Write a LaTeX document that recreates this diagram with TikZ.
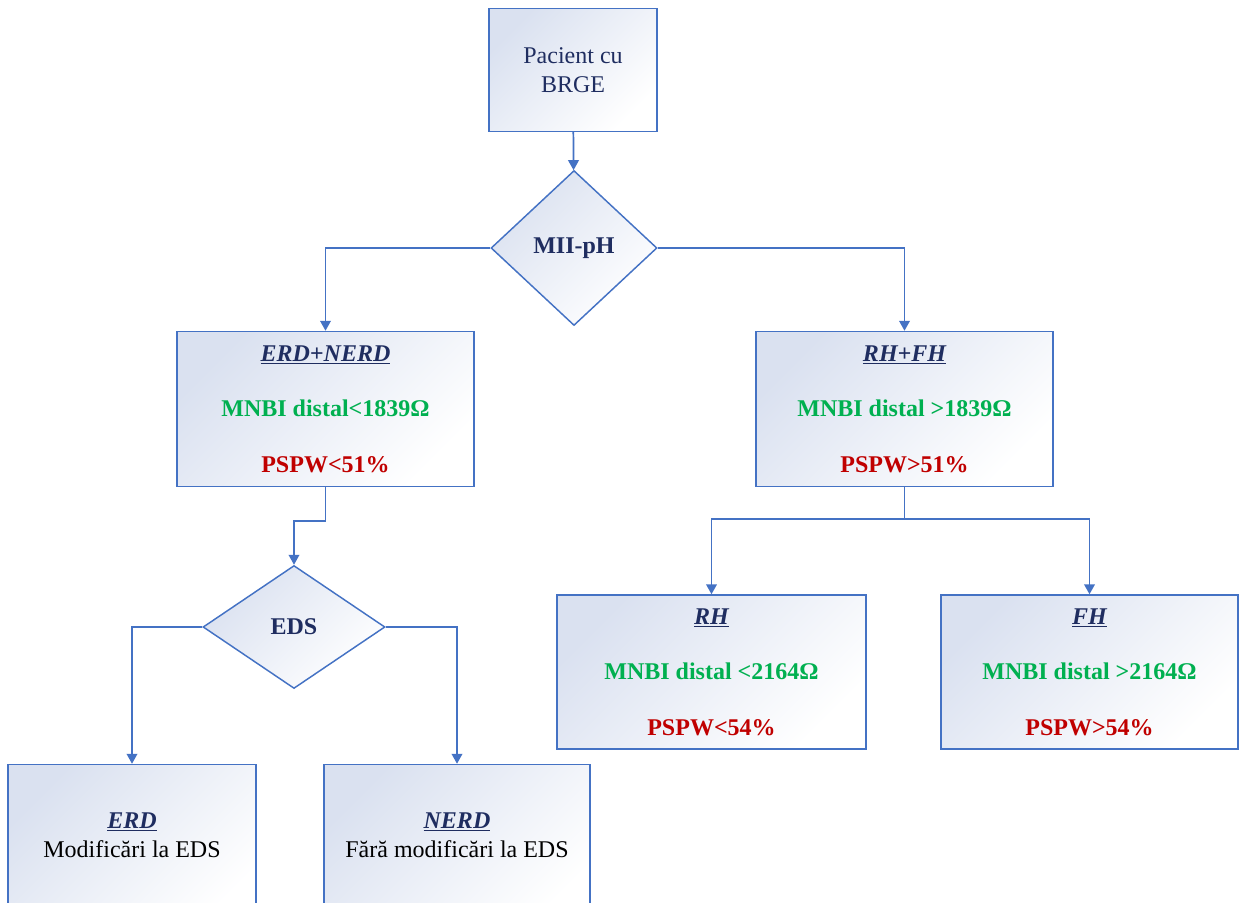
\documentclass[tikz,border=0pt]{standalone}
\usepackage{fontspec}
\setmainfont{Liberation Serif}
\usepackage{tikz}
\usetikzlibrary{arrows,arrows.meta,shapes.geometric,calc}

\definecolor{lineblue}{RGB}{68,114,196}
\definecolor{navytext}{RGB}{31,45,96}
\definecolor{greentext}{RGB}{0,176,80}
\definecolor{redtext}{RGB}{192,0,0}
\definecolor{boxtop}{RGB}{218,225,240}

\newcommand{\boxhead}[1]{{\color{navytext}\textbf{\textit{\underline{#1}}}}}
\newcommand{\grn}[1]{{\color{greentext}\textbf{#1}}}
\newcommand{\rd}[1]{{\color{redtext}\textbf{#1}}}

\tikzset{
  stepbox/.style={draw=lineblue, line width=1.1pt, top color=boxtop, middle color=white, bottom color=white,
    shading angle=45, align=center, inner sep=0pt, font=\fontsize{18}{21.6}\selectfont},
  decision/.style={diamond, draw=lineblue, line width=1.1pt, top color=boxtop, middle color=white, bottom color=white,
    shading angle=45, inner sep=0pt, text=navytext, font=\fontsize{18}{21.6}\selectfont\bfseries},
  arr/.style={draw=lineblue, line width=1.3pt, -{Triangle[width=8pt,length=7.5pt]}}
}

\begin{document}
\begin{tikzpicture}[x=0.75pt,y=-0.75pt]
\useasboundingbox (0,0) rectangle (1239,903);
\clip (0,0) rectangle (1239,903);

\node[stepbox, minimum width=126pt, minimum height=92.25pt, text=navytext] (pacient) at (573,70)
  {Pacient cu\\BRGE};
\node[decision, minimum width=124.5pt, minimum height=116.25pt] (mii) at (574,248) {MII-pH};

\node[stepbox, minimum width=222.75pt, minimum height=116.25pt] (ern) at (325.5,409)
  {\boxhead{ERD+NERD}\\[20pt]\grn{MNBI distal<1839Ω}\\[20pt]\rd{PSPW<51\%}};
\node[stepbox, minimum width=222.75pt, minimum height=116.25pt] (rhfh) at (904.5,409)
  {\boxhead{RH+FH}\\[20pt]\grn{MNBI distal >1839Ω}\\[20pt]\rd{PSPW>51\%}};

\node[decision, minimum width=136.5pt, minimum height=92.25pt] (eds) at (294,627) {EDS};

\node[stepbox, minimum width=231.75pt, minimum height=115.5pt] (rh) at (711.5,672)
  {\boxhead{RH}\\[20pt]\grn{MNBI distal <2164Ω}\\[20pt]\rd{PSPW<54\%}};
\node[stepbox, minimum width=222.75pt, minimum height=115.5pt] (fh) at (1089.5,672)
  {\boxhead{FH}\\[20pt]\grn{MNBI distal >2164Ω}\\[20pt]\rd{PSPW>54\%}};

\node[stepbox, minimum width=186pt, minimum height=123.75pt] (erd) at (132,847)
  {\boxhead{ERD}\\Modificări la EDS\\[-4pt]};
\node[stepbox, minimum width=199.5pt, minimum height=123.75pt] (nerd) at (457,847)
  {\boxhead{NERD}\\Fără modificări la EDS\\[-4pt]};

% connectors
\draw[arr] (pacient) -- (mii);
\draw[arr] (mii.west) -| (ern);
\draw[arr] (mii.east) -| (rhfh);
\draw[arr] (ern.south) -- ++(0,34) -| (eds.north);
\draw[arr] (eds.west) -| (erd);
\draw[arr] (eds.east) -| (nerd);
\draw[draw=lineblue, line width=1.3pt] (rhfh.south) -- ++(0,32) coordinate (split);
\draw[arr] (split) -| (rh);
\draw[arr] (split) -| (fh);
\end{tikzpicture}
\end{document}
